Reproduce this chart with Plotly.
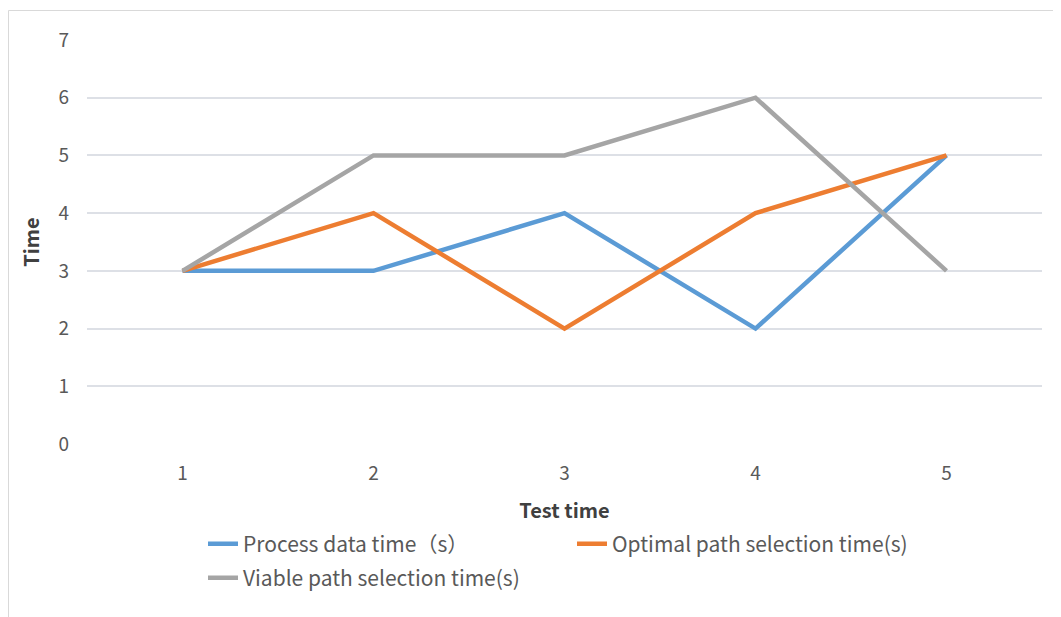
import plotly.graph_objects as go

categories = ["1", "2", "3", "4", "5"]
process_data = [3, 3, 4, 2, 5]
optimal_path = [3, 4, 2, 4, 5]
viable_path = [3, 5, 5, 6, 3]
series_names = ["Process data time（s）", "Optimal path selection time(s)", "Viable path selection time(s)"]
colors = ["#5B9BD5", "#ED7D31", "#A5A5A5"]
legend_ids = ["legend", "legend", "legend2"]

FONT = "Noto Sans CJK SC, Noto Sans, sans-serif"

# the page body has an 8px margin; the figure starts at window (8, 8)
OFF = 8
W, H = 1061 - OFF, 617 - OFF
L, R, T, B = 87 - OFF, 19, 40 - OFF, 173
pw, ph = W - L - R, H - T - B


def px_x(p):  # window pixel -> paper x
    return (p - OFF - L) / pw


def px_y(p):  # window pixel -> paper y
    return (OFF + T + ph - p) / ph


fig = go.Figure()
for name, vals, col, lg in zip(series_names, [process_data, optimal_path, viable_path], colors, legend_ids):
    fig.add_trace(go.Scatter(x=categories, y=vals, mode="lines", name=name,
                             line=dict(color=col, width=4.5), legend=lg))

legend_common = dict(orientation="h", xanchor="left", yanchor="middle",
                     entrywidth=324, entrywidthmode="pixels",
                     font=dict(size=21, color="#595959"), bgcolor="rgba(0,0,0,0)")

fig.update_layout(
    width=W, height=H,
    margin=dict(l=L, r=R, t=T, b=B),
    paper_bgcolor="white", plot_bgcolor="white",
    font=dict(family=FONT, color="#595959", size=18),
    xaxis=dict(type="category", range=[-0.5, 4.5], showgrid=False, zeroline=False,
               showline=False, ticks="", ticklabelstandoff=16,
               tickfont=dict(size=19, color="#595959"),
               title=dict(text="<b>Test time</b>", font=dict(size=20, color="#404040"), standoff=19)),
    yaxis=dict(range=[0, 7], dtick=1, showgrid=True, gridcolor="#DDE0E6", gridwidth=1.5,
               zeroline=False, showline=False, ticks="", ticklabelstandoff=17,
               tickfont=dict(size=19, color="#595959"),
               title=dict(text="<b>Time</b>", font=dict(size=20, color="#404040"), standoff=13)),
    legend=dict(x=px_x(203), y=px_y(544), **legend_common),
    legend2=dict(x=px_x(203), y=px_y(578), **legend_common),
    shapes=[dict(type="rect", xref="paper", yref="paper",
                 x0=px_x(8.5), x1=px_x(1075), y0=px_y(640), y1=px_y(10.5),
                 line=dict(color="#D9D9D9", width=1), layer="below")],
)

fig.write_html("out.html")
